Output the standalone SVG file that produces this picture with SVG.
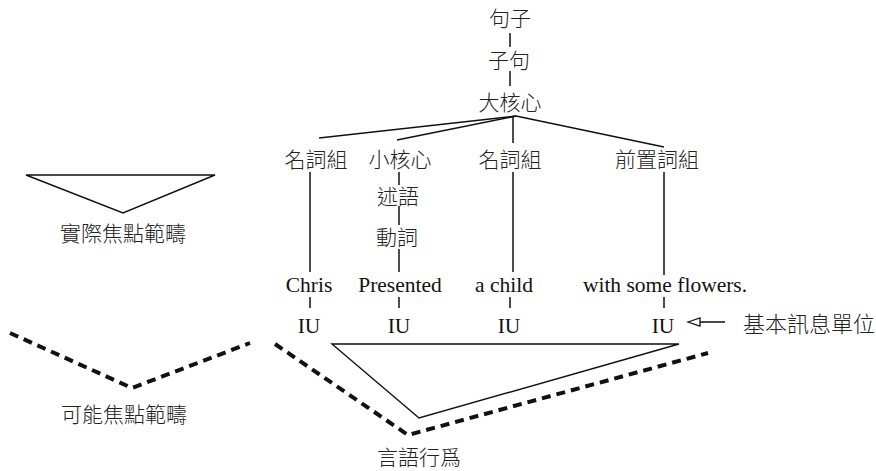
<svg xmlns="http://www.w3.org/2000/svg" width="876" height="471" viewBox="0 0 876 471">
<style>
.cjk{font-family:"Noto Sans CJK TC","Noto Sans CJK SC",sans-serif;font-size:21px;font-weight:300;fill:#222;text-anchor:middle}
.lat{font-family:"Liberation Serif",serif;font-size:21.5px;fill:#111;text-anchor:middle}
.ln{stroke:#111;stroke-width:1.5;fill:none}
.tri{stroke:#111;stroke-width:1.4;fill:none;stroke-linejoin:miter}
.dash{stroke:#111;stroke-width:4;fill:none;stroke-dasharray:9 6}
.head{fill:#fff;stroke:#111;stroke-width:1.3}
</style>
<rect width="876" height="471" fill="#fff"/>
<g id="connectors">
<line class="ln" x1="510" y1="33" x2="510" y2="47"/>
<line class="ln" x1="510" y1="71" x2="510" y2="86"/>
<line class="ln" x1="516" y1="116" x2="319" y2="138"/>
<line class="ln" x1="516" y1="116" x2="397" y2="140"/>
<line class="ln" x1="513" y1="116" x2="513" y2="143"/>
<line class="ln" x1="516" y1="116" x2="664" y2="147"/>
<line class="ln" x1="310" y1="172" x2="310" y2="272"/>
<line class="ln" x1="399" y1="172" x2="399" y2="185"/>
<line class="ln" x1="399" y1="206" x2="399" y2="225"/>
<line class="ln" x1="399" y1="249" x2="399" y2="272"/>
<line class="ln" x1="513" y1="172" x2="513" y2="272"/>
<line class="ln" x1="664" y1="172" x2="664" y2="275"/>
<line class="ln" x1="310" y1="297" x2="310" y2="308"/>
<line class="ln" x1="399" y1="297" x2="399" y2="308"/>
<line class="ln" x1="510" y1="297" x2="510" y2="308"/>
<line class="ln" x1="664" y1="297" x2="664" y2="308"/>
<line class="ln" x1="725" y1="322" x2="699" y2="322"/>
<polygon class="head" points="688,322 700,318 700,326"/>
</g>
<g id="n-juzi"><text class="cjk" x="510" y="26">句子</text></g>
<g id="n-ziju"><text class="cjk" x="509" y="68">子句</text></g>
<g id="n-dahexin"><text class="cjk" x="510" y="110">大核心</text></g>
<g id="n-np1"><text class="cjk" x="316" y="167">名詞組</text></g>
<g id="n-xiaohexin"><text class="cjk" x="400" y="167">小核心</text></g>
<g id="n-np2"><text class="cjk" x="510" y="167">名詞組</text></g>
<g id="n-pp"><text class="cjk" x="657" y="167">前置詞組</text></g>
<g id="n-shuyu"><text class="cjk" x="398" y="204">述語</text></g>
<g id="n-dongci"><text class="cjk" x="397" y="245">動詞</text></g>
<g id="n-chris"><text class="lat" x="309" y="292">Chris</text></g>
<g id="n-presented"><text class="lat" x="400" y="292">Presented</text></g>
<g id="n-achild"><text class="lat" x="504" y="292">a child</text></g>
<g id="n-flowers"><text class="lat" x="665" y="292">with some flowers.</text></g>
<g id="n-iu1"><text class="lat" x="309" y="333">IU</text></g>
<g id="n-iu2"><text class="lat" x="399" y="333">IU</text></g>
<g id="n-iu3"><text class="lat" x="509" y="333">IU</text></g>
<g id="n-iu4"><text class="lat" x="663" y="333">IU</text></g>
<g id="n-basic"><text class="cjk" x="743" y="332" style="text-anchor:start;font-size:22px">基本訊息單位</text></g>
<g id="n-speechact">
<polygon class="tri" points="332,344 679,344 419,418"/>
<polyline class="dash" points="275,344 408,435 708,353"/>
<text class="cjk" x="419" y="465">言語行爲</text>
</g>
<g id="legend-actual">
<polygon class="tri" points="26,175 215,175 123,213"/>
<text class="cjk" x="123" y="241">實際焦點範疇</text>
</g>
<g id="legend-possible">
<polyline class="dash" points="10,333 132,388 250,343"/>
<text class="cjk" x="124" y="422">可能焦點範疇</text>
</g>
</svg>
